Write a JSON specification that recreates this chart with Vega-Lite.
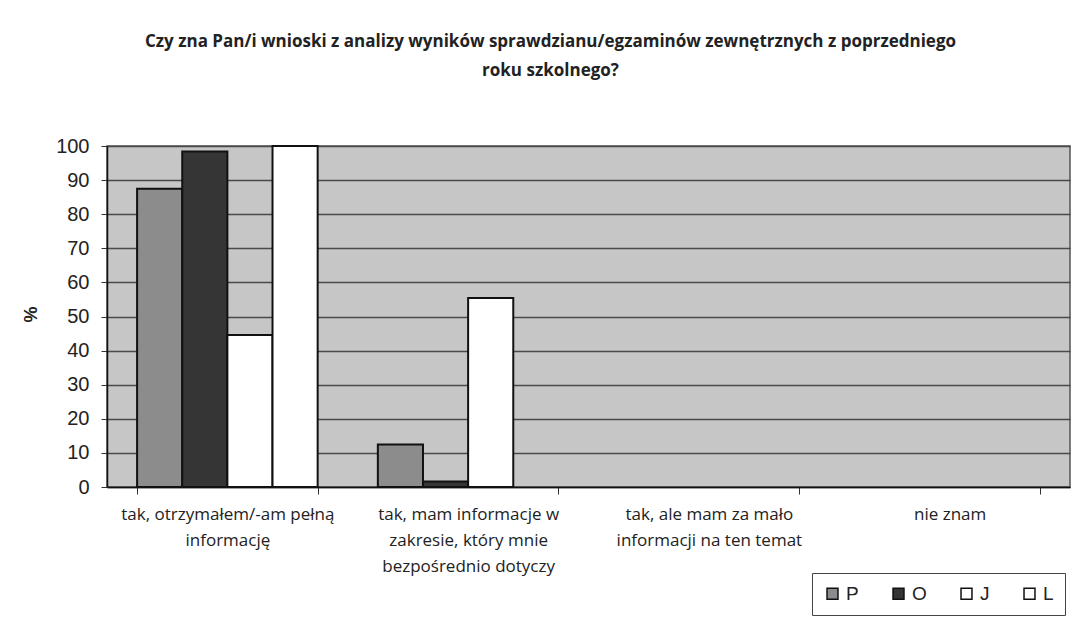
{
  "$schema": "https://vega.github.io/schema/vega-lite/v6.json",
  "autosize": {"type": "none"},
  "width": 963,
  "height": 341,
  "padding": {"left": 107, "top": 146, "right": 22, "bottom": 151},
  "background": "#ffffff",
  "title": {
    "text": ["Czy zna Pan/i wnioski z analizy wyników sprawdzianu/egzaminów zewnętrznych z poprzedniego", "roku szkolnego?"],
    "anchor": "middle",
    "frame": "group",
    "dx": -38,
    "offset": 56,
    "font": "Open Sans",
    "fontSize": 17,
    "fontWeight": "bold",
    "color": "#222222",
    "lineHeight": 29
  },
  "data": {
    "values": [
      {"kategoria": "tak, otrzymałem/-am pełną informację", "grupa": "P", "procent": 87.5},
      {"kategoria": "tak, otrzymałem/-am pełną informację", "grupa": "O", "procent": 98.4},
      {"kategoria": "tak, otrzymałem/-am pełną informację", "grupa": "J", "procent": 44.6},
      {"kategoria": "tak, otrzymałem/-am pełną informację", "grupa": "L", "procent": 100},
      {"kategoria": "tak, mam informacje w zakresie, który mnie bezpośrednio dotyczy", "grupa": "P", "procent": 12.5},
      {"kategoria": "tak, mam informacje w zakresie, który mnie bezpośrednio dotyczy", "grupa": "O", "procent": 1.6},
      {"kategoria": "tak, mam informacje w zakresie, który mnie bezpośrednio dotyczy", "grupa": "J", "procent": 55.4},
      {"kategoria": "tak, mam informacje w zakresie, który mnie bezpośrednio dotyczy", "grupa": "L", "procent": 0},
      {"kategoria": "tak, ale mam za mało informacji na ten temat", "grupa": "P", "procent": 0},
      {"kategoria": "tak, ale mam za mało informacji na ten temat", "grupa": "O", "procent": 0},
      {"kategoria": "tak, ale mam za mało informacji na ten temat", "grupa": "J", "procent": 0},
      {"kategoria": "tak, ale mam za mało informacji na ten temat", "grupa": "L", "procent": 0},
      {"kategoria": "nie znam", "grupa": "P", "procent": 0},
      {"kategoria": "nie znam", "grupa": "O", "procent": 0},
      {"kategoria": "nie znam", "grupa": "J", "procent": 0},
      {"kategoria": "nie znam", "grupa": "L", "procent": 0}
    ]
  },
  "mark": {"type": "bar", "stroke": "#111111", "strokeWidth": 2},
  "encoding": {
    "x": {
      "field": "kategoria",
      "type": "nominal",
      "sort": null,
      "scale": {"paddingInner": 0.25, "paddingOuter": 0.125},
      "axis": {
        "title": null,
        "labelAngle": 0,
        "tickBand": "extent",
        "domainColor": "#111111",
        "domainWidth": 1.5,
        "tickColor": "#333333",
        "tickSize": 7,
        "labelFont": "Open Sans",
        "labelFontSize": 17,
        "labelColor": "#222222",
        "labelPadding": 12,
        "labelLineHeight": 26,
        "labelLimit": 0,
        "labelExpr": "datum.value == 'tak, otrzymałem/-am pełną informację' ? ['tak, otrzymałem/-am pełną', 'informację'] : datum.value == 'tak, mam informacje w zakresie, który mnie bezpośrednio dotyczy' ? ['tak, mam informacje w', 'zakresie, który mnie', 'bezpośrednio dotyczy'] : datum.value == 'tak, ale mam za mało informacji na ten temat' ? ['tak, ale mam za mało', 'informacji na ten temat'] : datum.value"
      }
    },
    "xOffset": {"field": "grupa", "type": "nominal", "sort": ["P", "O", "J", "L"], "scale": {"paddingInner": 0, "paddingOuter": 0}},
    "y": {
      "field": "procent",
      "type": "quantitative",
      "scale": {"domain": [0, 100], "nice": false},
      "axis": {
        "title": "%",
        "titleFont": "Liberation Sans",
        "titleFontSize": 18,
        "titleFontWeight": "bold",
        "titleColor": "#222222",
        "titleAngle": -90,
        "titleX": -76,
        "titleY": 168,
        "titleAlign": "center",
        "titleBaseline": "middle",
        "values": [0, 10, 20, 30, 40, 50, 60, 70, 80, 90, 100],
        "labelFont": "Liberation Sans",
        "labelFontSize": 20,
        "labelColor": "#222222",
        "labelPadding": 12,
        "tickSize": 6,
        "tickColor": "#333333",
        "domainColor": "#111111",
        "domainWidth": 1.5,
        "grid": true,
        "gridColor": "#4a4a4a",
        "gridWidth": 1.3
      }
    },
    "fill": {
      "field": "grupa",
      "type": "nominal",
      "scale": {"domain": ["P", "O", "J", "L"], "range": ["#8c8c8c", "#353535", "#ffffff", "#ffffff"]},
      "legend": {
        "title": null,
        "orient": "none",
        "legendX": 705,
        "legendY": 427,
        "direction": "horizontal",
        "symbolType": "square",
        "symbolSize": 120,
        "symbolStrokeColor": "#111111",
        "symbolStrokeWidth": 1.5,
        "symbolOpacity": 1,
        "labelFont": "Liberation Sans",
        "labelFontSize": 19,
        "labelColor": "#222222",
        "labelOffset": 4,
        "columnPadding": 30,
        "padding": 11,
        "strokeColor": "#444444",
        "fillColor": "#ffffff"
      }
    },
    "strokeOpacity": {
      "condition": {"test": "datum.procent == 0", "value": 0},
      "value": 1
    }
  },
  "config": {
    "view": {"fill": "#c6c6c6", "stroke": "#555555", "strokeWidth": 1.5}
  }
}
